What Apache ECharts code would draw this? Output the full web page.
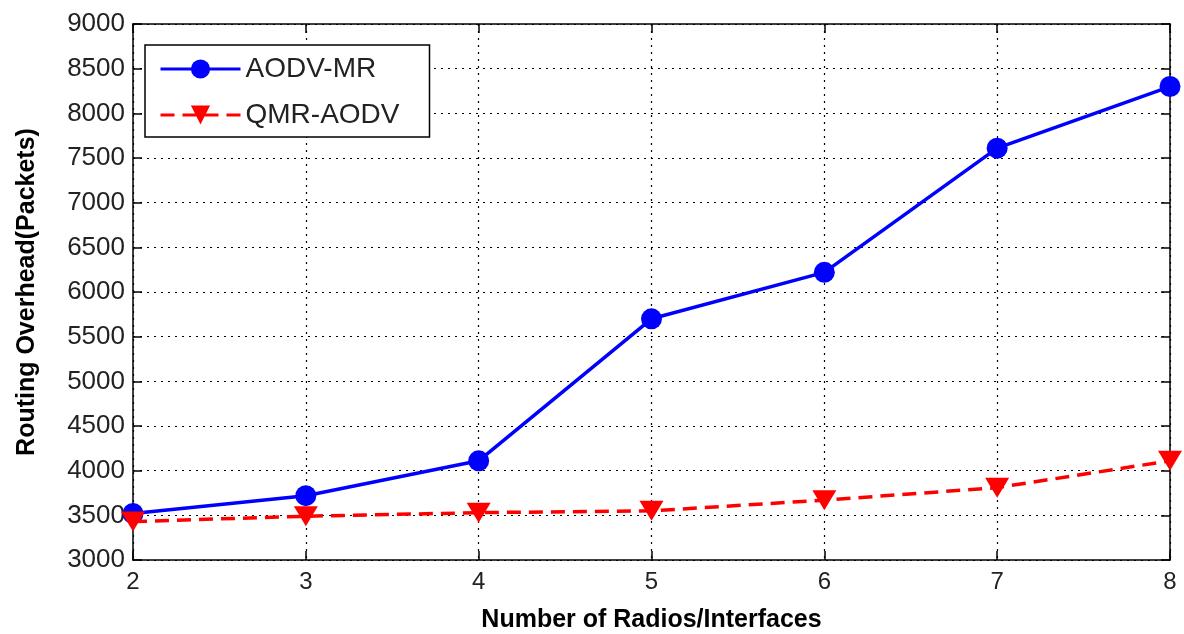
<!DOCTYPE html>
<html><head><meta charset="utf-8">
<script src="https://cdn.jsdelivr.net/npm/echarts@6/dist/echarts.min.js"></script>
<style>html,body{margin:0;padding:0;background:#fff}#c{width:1184px;height:634px}</style>
</head><body><div id="c"></div>
<script>
const radios = [2, 3, 4, 5, 6, 7, 8];
const aodvMR = [3520, 3720, 4110, 5700, 6220, 7610, 8300];
const qmrAODV = [3430, 3490, 3530, 3550, 3670, 3810, 4110];
const seriesNames = ['AODV-MR', 'QMR-AODV'];
const xTitle = 'Number of Radios/Interfaces';
const yTitle = 'Routing Overhead(Packets)';

const font = 'Liberation Sans, Arial, sans-serif';
const chart = echarts.init(document.getElementById('c'), null, {renderer: 'canvas'});
const frameAxis = {
  axisLine: {show: true, lineStyle: {color: '#000', width: 1.5}},
  axisTick: {show: true, inside: true, length: 9, lineStyle: {color: '#000', width: 1.5}},
  axisLabel: {show: false},
  splitLine: {show: false}
};
chart.setOption({
  animation: false,
  backgroundColor: '#fff',
  grid: {left: 133, right: 14, top: 24, bottom: 74, containLabel: false, outerBoundsMode: 'none'},
  legend: {
    show: true, orient: 'vertical', left: 145, top: 45,
    padding: [10, 30, 8, 14],
    itemGap: 18,
    backgroundColor: '#fff', borderColor: '#000', borderWidth: 1.5, borderRadius: 0,
    itemWidth: 80, itemHeight: 24,
    textStyle: {fontFamily: font, fontSize: 28, color: '#222'},
    data: [
      {name: seriesNames[0], lineStyle: {width: 3}},
      {name: seriesNames[1], lineStyle: {width: 3}}
    ]
  },
  xAxis: [{
    type: 'value', min: 2, max: 8, interval: 1,
    axisLine: {show: true, onZero: false, lineStyle: {color: '#000', width: 1.5}},
    axisTick: {show: true, inside: true, length: 9, lineStyle: {color: '#000', width: 1.5}},
    axisLabel: {fontFamily: font, fontSize: 24, color: '#222', margin: 10},
    splitLine: {show: true, lineStyle: {color: '#000', width: 1.2, type: [2, 5]}},
    name: xTitle, nameLocation: 'middle', nameGap: 48,
    nameTextStyle: {fontFamily: font, fontSize: 25, fontWeight: 'bold', color: '#000'}
  }, Object.assign({type: 'value', min: 2, max: 8, interval: 1, position: 'top'}, frameAxis)],
  yAxis: [{
    type: 'value', min: 3000, max: 9000, interval: 500,
    axisLine: {show: true, lineStyle: {color: '#000', width: 1.5}},
    axisTick: {show: true, inside: true, length: 9, lineStyle: {color: '#000', width: 1.5}},
    axisLabel: {fontFamily: font, fontSize: 26, color: '#222', margin: 8, formatter: v => String(v)},
    splitLine: {show: true, lineStyle: {color: '#000', width: 1.2, type: [2, 5]}},
    name: yTitle, nameLocation: 'middle', nameGap: 93, nameRotate: 90,
    nameTextStyle: {fontFamily: font, fontSize: 25, fontWeight: 'bold', color: '#000'}
  }, Object.assign({type: 'value', min: 3000, max: 9000, interval: 500, position: 'right'}, frameAxis)],
  series: [{
    name: seriesNames[0], type: 'line',
    data: radios.map((x, i) => [x, aodvMR[i]]),
    symbol: 'circle', symbolSize: 21,
    lineStyle: {color: '#0000ff', width: 3.5},
    itemStyle: {color: '#0000ff'},
    z: 3
  }, {
    name: seriesNames[1], type: 'line',
    data: radios.map((x, i) => [x, qmrAODV[i]]),
    symbol: 'triangle', symbolSize: [24, 20], symbolRotate: 180,
    lineStyle: {color: '#ff0000', width: 3.5, type: [14, 8]},
    itemStyle: {color: '#ff0000'},
    z: 4
  }]
});
</script></body></html>
